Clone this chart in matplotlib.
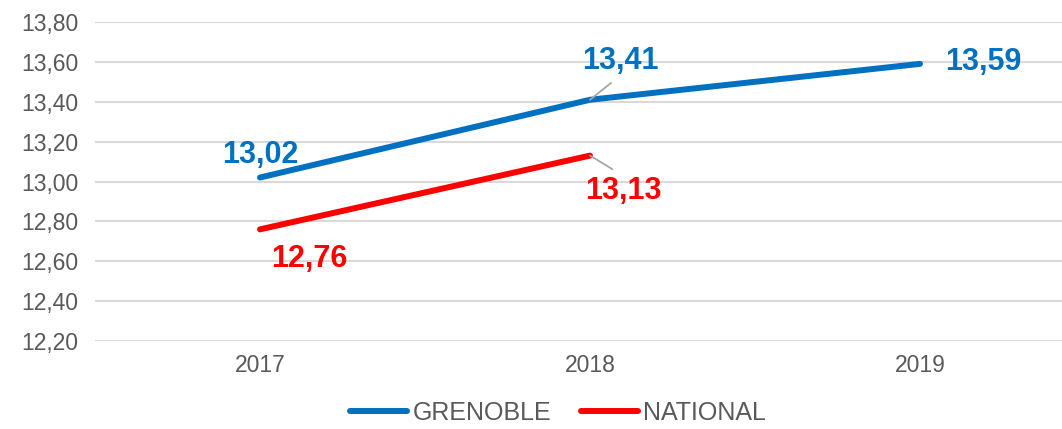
import matplotlib.pyplot as plt

years = ["2017", "2018", "2019"]
grenoble = [13.02, 13.41, 13.59]
national = [12.76, 13.13]
yticks = [12.2, 12.4, 12.6, 12.8, 13.0, 13.2, 13.4, 13.6, 13.8]

blue = "#0070C0"
red = "#FF0000"
grey = "#595959"

plt.rcParams["font.family"] = ["Liberation Sans", "DejaVu Sans"]

fig = plt.figure(figsize=(10.62, 4.29), dpi=100)
ax = fig.add_axes([95 / 1062, 1 - 341 / 429, 990 / 1062, 319 / 429])

x_g = list(range(len(grenoble)))
x_n = list(range(len(national)))
ax.plot(x_g, grenoble, color=blue, lw=4.3, solid_capstyle="round", label="GRENOBLE")
ax.plot(x_n, national, color=red, lw=4.3, solid_capstyle="round", label="NATIONAL")

ax.set_xlim(-0.5, 2.5)
ax.set_ylim(12.2, 13.8)
ax.set_xticks(range(len(years)))
ax.set_xticklabels(years)
ax.set_yticks(yticks)
ax.set_yticklabels([f"{v:.2f}".replace(".", ",") for v in yticks])
ax.tick_params(axis="both", length=0, labelsize=16.5, labelcolor=grey)
ax.tick_params(axis="x", pad=9)
ax.tick_params(axis="y", pad=12)
ax.grid(axis="y", color="#D9D9D9", lw=1.5)
ax.set_axisbelow(True)
for s in ax.spines.values():
    s.set_visible(False)

def fmt(v):
    return f"{v:.2f}".replace(".", ",")

lab = dict(fontsize=22, fontweight="bold", ha="center", va="center",
           textcoords="offset pixels", annotation_clip=False)
leader = dict(arrowstyle="-", color="#A6A6A6", lw=1.3, shrinkB=0)

# grenoble labels
ax.annotate(fmt(grenoble[0]), (0, grenoble[0]), xytext=(0, 23), color=blue, **lab)
ax.annotate(fmt(grenoble[1]), (1, grenoble[1]), xytext=(30, 39), color=blue,
            arrowprops=dict(leader, relpos=(0.5, 0), shrinkA=5), **lab)
ax.annotate(fmt(grenoble[2]), (2, grenoble[2]), xytext=(63, 2), color=blue, **lab)
# national labels
ax.annotate(fmt(national[0]), (0, national[0]), xytext=(49, -30), color=red, **lab)
ax.annotate(fmt(national[1]), (1, national[1]), xytext=(33, -35), color=red,
            arrowprops=dict(leader, relpos=(0.5, 1), shrinkA=5), **lab)

fig.legend(loc="center", bbox_to_anchor=(558 / 1062, 1 - 413 / 429), ncol=2,
           frameon=False, fontsize=18, labelcolor=grey, handlelength=2.3,
           handletextpad=0.2, columnspacing=1.2)

fig.savefig("out.png", dpi=100)
